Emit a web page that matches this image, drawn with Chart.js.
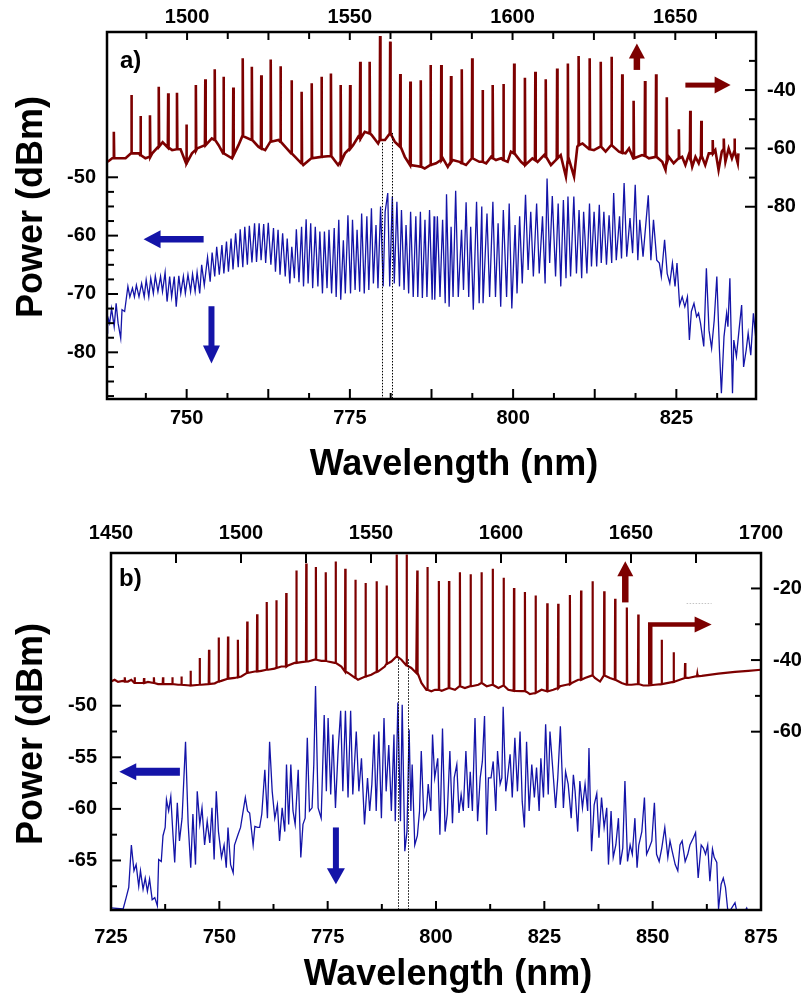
<!DOCTYPE html>
<html><head><meta charset="utf-8">
<script src="https://cdn.jsdelivr.net/npm/chart.js@4.4.1/dist/chart.umd.min.js"></script>
<style>
html,body{margin:0;padding:0;background:#fff;}
#wrap{position:relative;width:805px;height:1005px;overflow:hidden;background:#fff;}
.box{position:absolute;left:0;width:805px;}
</style></head><body>
<div id="wrap">
<div class="box" style="top:0;height:500px"><canvas id="ca" width="805" height="500"></canvas></div>
<div class="box" style="top:500px;height:505px"><canvas id="cb" width="805" height="505"></canvas></div>
</div>
<script>
// ---------- tick labels ----------
const aBottomLabels = [750, 775, 800, 825];
const aTopLabels = [1500, 1550, 1600, 1650];
const aLeftLabels = [-50, -60, -70, -80];
const aRightLabels = [-40, -60, -80];
const bBottomLabels = [725, 750, 775, 800, 825, 850, 875];
const bTopLabels = [1450, 1500, 1550, 1600, 1650, 1700];
const bLeftLabels = [-50, -55, -60, -65];
const bRightLabels = [-20, -40, -60];

// ---------- panel a: IR spectrum (top axis nm, right axis dBm) ----------
// background trace [nm, dBm]
const aIrBase = [[1475.6,-64.6],[1477.0,-63.4],[1479.1,-63.4],[1481.1,-63.4],[1483.2,-60.6],[1485.2,-61.7],[1487.2,-63.4],[1489.3,-61.7],[1491.3,-59.4],[1492.5,-57.9],[1493.9,-59.4],[1495.4,-60.6],[1496.6,-59.7],[1498.0,-60.3],[1500.0,-65.7],[1501.5,-61.7],[1503.1,-60.0],[1505.6,-58.9],[1507.6,-56.6],[1509.7,-58.9],[1511.2,-61.7],[1513.8,-63.4],[1515.8,-58.9],[1517.3,-55.4],[1519.9,-57.1],[1521.9,-59.4],[1524.0,-60.6],[1526.0,-57.7],[1528.1,-57.1],[1530.6,-60.0],[1533.2,-62.9],[1535.7,-65.7],[1538.3,-63.4],[1541.3,-62.9],[1544.4,-62.6],[1546.4,-65.7],[1548.5,-61.7],[1551.0,-58.9],[1552.6,-56.0],[1554.6,-54.3],[1556.7,-55.4],[1558.7,-58.3],[1560.8,-57.1],[1562.3,-54.9],[1563.8,-57.7],[1565.3,-59.4],[1566.9,-62.9],[1568.9,-65.7],[1571.0,-66.1],[1573.0,-66.9],[1574.5,-64.6],[1576.5,-65.1],[1578.6,-63.4],[1580.1,-66.3],[1581.6,-64.0],[1583.7,-64.6],[1585.7,-65.7],[1587.8,-62.9],[1589.8,-64.6],[1591.9,-65.1],[1593.4,-62.9],[1594.9,-64.0],[1596.5,-63.4],[1598.5,-64.6],[1599.5,-61.1],[1601.0,-62.3],[1602.6,-64.6],[1604.1,-66.3],[1606.1,-63.4],[1607.7,-64.6],[1609.7,-62.3],[1611.8,-65.7],[1613.3,-64.0],[1614.8,-62.3],[1616.4,-69.7],[1617.4,-64.0],[1618.9,-69.7],[1619.9,-59.4],[1621.5,-58.3],[1623.5,-60.0],[1625.0,-60.6],[1627.1,-59.4],[1628.6,-61.1],[1630.7,-58.9],[1632.7,-61.1],[1634.7,-61.7],[1635.8,-60.0],[1637.3,-64.0],[1639.8,-62.3],[1641.9,-63.4],[1643.9,-62.9],[1646.0,-64.6],[1647.0,-67.4],[1648.0,-62.9],[1649.5,-65.1],[1651.1,-67.4],[1652.1,-62.9],[1653.1,-65.7],[1654.1,-62.3],[1655.2,-66.3],[1656.2,-62.9],[1657.2,-65.1],[1658.2,-61.9],[1659.2,-65.7],[1660.3,-61.7],[1661.3,-64.6],[1662.3,-60.6],[1663.3,-67.4],[1664.3,-61.1],[1665.4,-64.6],[1666.4,-60.0],[1667.4,-63.4],[1668.4,-60.6],[1669.2,-65.1],[1669.4,-61.7]];
// comb lines [nm, floor dBm, peak dBm]
const aIrLines = [[1477.5,-63.4,-54.3],[1482.9,-61.7,-41.7],[1485.7,-62.3,-48.9],[1488.6,-62.9,-48.6],[1491.3,-59.4,-38.9],[1494.2,-59.7,-41.1],[1496.9,-60.3,-40.9],[1499.8,-65.1,-51.8],[1502.7,-60.6,-38.3],[1505.6,-58.9,-36.3],[1508.5,-57.1,-32.9],[1511.2,-61.7,-35.4],[1514.2,-62.3,-39.1],[1517.1,-55.8,-29.1],[1519.9,-57.1,-32.0],[1522.8,-60.0,-34.9],[1525.7,-57.7,-29.5],[1528.7,-57.7,-31.8],[1532.1,-61.7,-36.6],[1535.2,-65.1,-40.6],[1538.3,-63.4,-37.7],[1541.3,-62.9,-35.4],[1544.2,-62.6,-34.3],[1547.2,-64.6,-38.3],[1550.1,-60.0,-38.3],[1553.2,-56.6,-30.3],[1556.1,-54.9,-30.3],[1559.3,-57.1,-21.5],[1562.4,-54.9,-23.4],[1565.5,-59.4,-34.5],[1568.6,-65.7,-37.1],[1571.8,-66.3,-36.6],[1574.8,-65.7,-31.4],[1578.1,-64.0,-31.4],[1581.1,-64.6,-35.2],[1584.4,-65.1,-32.9],[1587.6,-63.4,-29.1],[1590.8,-64.6,-40.0],[1593.9,-63.4,-38.3],[1597.2,-64.0,-37.9],[1600.5,-61.7,-30.9],[1603.8,-65.7,-35.8],[1607.0,-64.0,-33.7],[1610.2,-62.9,-36.3],[1613.7,-63.4,-32.6],[1617.0,-64.6,-30.9],[1620.3,-58.9,-28.3],[1623.7,-60.3,-29.1],[1627.1,-59.4,-30.3],[1630.4,-58.9,-28.6],[1633.7,-61.5,-34.6],[1637.2,-63.4,-43.7],[1640.7,-62.6,-36.9],[1644.1,-62.9,-34.6],[1647.4,-64.6,-42.5],[1651.1,-63.4,-53.4],[1654.6,-63.4,-47.1],[1658.0,-62.6,-50.5],[1661.5,-61.7,-57.1],[1664.9,-60.3,-56.6],[1668.2,-61.1,-56.6]];

// ---------- panel a: visible spectrum (bottom axis nm, left axis dBm) ----------
const aVis = [[737.8,-76.7],[737.9,-73.9],[738.2,-75.0],[738.5,-72.5],[738.9,-75.6],[739.2,-71.6],[739.5,-75.0],[739.9,-77.6],[740.1,-72.7],[740.5,-73.0],[741.0,-68.7],[741.3,-70.5],[741.7,-69.0],[742.0,-70.5],[742.3,-68.5],[742.7,-70.5],[743.1,-68.2],[743.5,-70.5],[743.8,-67.6],[744.2,-70.5],[744.5,-67.3],[744.9,-69.9],[745.2,-66.9],[745.6,-69.6],[746.0,-67.0],[746.3,-69.6],[746.7,-66.3],[747.0,-71.3],[747.4,-67.0],[747.7,-70.5],[748.1,-67.0],[748.4,-72.2],[748.8,-66.9],[749.1,-69.9],[749.5,-67.0],[749.8,-69.9],[750.2,-66.7],[750.6,-69.6],[750.9,-66.6],[751.3,-69.6],[751.6,-66.3],[752.0,-69.9],[752.3,-65.0],[752.7,-68.5],[753.2,-63.7],[753.6,-67.9],[753.9,-62.9],[754.3,-67.0],[754.6,-61.9],[755.0,-66.7],[755.4,-61.6],[755.7,-66.5],[756.1,-61.0],[756.4,-66.2],[756.8,-60.5],[757.1,-65.8],[757.5,-59.6],[757.9,-65.4],[758.2,-58.9],[758.6,-65.4],[758.9,-58.5],[759.3,-65.0],[759.6,-58.3],[760.0,-64.6],[760.4,-57.9],[760.7,-64.5],[761.1,-57.9],[761.4,-64.2],[761.8,-58.0],[762.1,-64.7],[762.5,-57.8],[762.9,-65.0],[763.3,-58.7],[763.6,-66.2],[764.0,-59.0],[764.3,-66.7],[764.7,-59.6],[765.1,-67.0],[765.4,-60.5],[765.8,-68.2],[766.1,-61.9],[766.5,-67.3],[766.8,-58.9],[767.2,-68.0],[767.6,-58.5],[767.9,-68.7],[768.3,-57.2],[768.6,-68.2],[769.0,-57.9],[769.3,-69.0],[769.7,-58.5],[770.1,-68.7],[770.4,-59.3],[770.8,-69.9],[771.1,-59.3],[771.5,-69.0],[771.8,-59.0],[772.2,-69.9],[772.6,-58.7],[772.9,-70.5],[773.3,-57.3],[773.6,-71.0],[774.0,-60.8],[774.3,-69.9],[774.7,-56.5],[775.1,-69.9],[775.4,-57.3],[775.8,-69.3],[776.1,-59.0],[776.5,-69.6],[776.8,-56.2],[777.2,-69.9],[777.6,-56.7],[777.9,-69.3],[778.3,-55.3],[778.6,-68.2],[779.0,-58.2],[779.3,-69.0],[779.7,-55.0],[780.1,-68.7],[780.4,-55.9],[780.8,-52.7],[781.1,-68.7],[781.5,-53.3],[781.8,-68.2],[782.2,-54.2],[782.6,-68.7],[782.9,-55.6],[783.3,-69.3],[783.6,-58.2],[784.0,-69.9],[784.3,-55.9],[784.7,-70.5],[785.1,-56.7],[785.4,-70.5],[785.8,-55.9],[786.1,-70.7],[786.5,-57.3],[786.8,-70.5],[787.2,-55.6],[787.6,-71.0],[787.9,-56.7],[788.0,-71.0],[788.4,-56.7],[788.8,-70.5],[789.2,-57.3],[789.6,-71.6],[789.8,-52.9],[790.2,-72.2],[790.5,-58.5],[790.8,-70.5],[791.2,-52.3],[791.6,-70.5],[792.1,-59.0],[792.4,-69.3],[792.8,-54.3],[793.2,-70.5],[793.5,-58.5],[793.9,-72.7],[794.4,-54.2],[794.8,-71.6],[795.2,-55.0],[795.4,-71.6],[796.0,-56.2],[796.4,-70.5],[796.9,-54.2],[797.3,-70.5],[797.7,-57.9],[798.1,-72.2],[798.5,-55.6],[799.0,-70.5],[799.4,-54.5],[799.8,-72.5],[800.3,-58.2],[800.6,-69.9],[801.0,-56.7],[801.4,-68.2],[801.9,-53.0],[802.3,-65.9],[802.7,-55.9],[803.1,-67.0],[803.6,-54.5],[804.0,-66.5],[804.5,-56.7],[804.9,-68.2],[805.2,-50.2],[805.6,-64.7],[806.0,-53.2],[806.5,-67.0],[806.9,-54.5],[807.3,-68.7],[807.7,-53.9],[808.1,-67.3],[808.4,-53.3],[808.8,-67.0],[809.3,-53.3],[809.7,-66.5],[810.1,-55.6],[810.5,-67.3],[810.8,-55.9],[811.3,-66.5],[811.7,-54.5],[812.0,-65.3],[812.4,-55.9],[812.8,-65.3],[813.2,-54.7],[813.5,-64.7],[813.9,-55.9],[814.3,-65.0],[814.7,-56.5],[815.1,-64.7],[815.4,-52.7],[815.8,-64.2],[816.3,-56.7],[816.6,-63.9],[817.0,-51.0],[817.4,-63.6],[817.9,-57.0],[818.3,-63.0],[818.7,-51.3],[819.1,-64.2],[819.4,-57.3],[819.9,-63.6],[820.7,-53.1],[821.1,-64.2],[821.5,-57.3],[822.0,-64.2],[822.4,-64.7],[822.7,-67.0],[823.2,-60.7],[823.6,-66.5],[824.0,-68.2],[824.4,-64.7],[824.8,-68.7],[825.1,-64.7],[825.5,-71.9],[825.9,-70.5],[826.3,-72.2],[826.7,-70.5],[827.0,-77.9],[827.3,-73.0],[827.7,-71.6],[828.1,-73.9],[828.4,-73.3],[828.7,-75.0],[829.2,-79.0],[829.6,-65.6],[830.0,-76.2],[830.4,-79.3],[830.8,-74.5],[831.2,-67.0],[831.6,-79.6],[831.9,-87.0],[832.3,-77.3],[832.7,-73.3],[832.9,-75.6],[833.2,-67.3],[833.6,-87.0],[833.8,-77.9],[834.2,-80.7],[834.6,-76.2],[835.0,-71.9],[835.3,-82.5],[835.7,-79.6],[836.0,-76.7],[836.4,-80.5],[836.8,-73.3],[837.2,-77.9]];

// ---------- panel b: IR spectrum ----------
const bIrBase = [[1450.0,-46.0],[1451.4,-45.5],[1452.7,-46.1],[1454.6,-45.8],[1456.5,-46.0],[1457.8,-45.5],[1459.7,-46.4],[1461.7,-46.4],[1464.2,-46.1],[1468.1,-46.7],[1471.9,-46.7],[1475.8,-46.9],[1480.9,-47.1],[1484.7,-46.9],[1487.3,-46.7],[1489.9,-46.5],[1492.4,-45.8],[1495.0,-45.2],[1497.6,-45.0],[1500.1,-44.6],[1502.7,-43.6],[1505.3,-43.2],[1507.8,-43.0],[1510.4,-42.7],[1512.9,-42.4],[1515.5,-41.8],[1518.1,-41.5],[1520.6,-40.8],[1523.2,-40.6],[1525.8,-40.4],[1528.3,-39.9],[1530.9,-40.2],[1533.5,-40.4],[1536.0,-40.8],[1538.6,-41.8],[1541.2,-43.6],[1543.7,-45.0],[1545.0,-45.5],[1547.6,-44.6],[1550.1,-44.1],[1552.7,-43.2],[1555.3,-41.8],[1557.8,-40.4],[1559.7,-39.0],[1561.7,-39.9],[1563.6,-41.3],[1565.5,-42.2],[1567.4,-43.6],[1569.4,-46.4],[1571.3,-48.3],[1573.2,-48.7],[1574.6,-48.3],[1577.2,-48.6],[1579.7,-47.8],[1582.3,-48.3],[1584.2,-47.3],[1586.1,-47.8],[1588.7,-47.3],[1591.3,-46.9],[1592.5,-46.1],[1594.5,-47.3],[1597.0,-46.9],[1599.0,-47.8],[1600.9,-47.1],[1602.8,-48.3],[1605.4,-48.6],[1607.9,-48.7],[1609.9,-48.9],[1611.1,-49.5],[1613.1,-48.7],[1615.6,-48.3],[1618.2,-48.7],[1620.1,-48.3],[1622.7,-47.3],[1625.2,-46.9],[1627.2,-46.4],[1629.7,-45.5],[1632.3,-45.0],[1634.9,-44.1],[1636.1,-45.0],[1638.1,-46.0],[1640.0,-44.1],[1641.9,-45.0],[1643.8,-45.5],[1646.4,-46.4],[1648.3,-46.9],[1650.2,-46.9],[1652.8,-46.7],[1654.7,-47.1],[1656.7,-47.1],[1659.2,-46.9],[1661.8,-46.7],[1666.9,-46.0],[1672.0,-45.0],[1677.2,-44.4],[1683.6,-43.8],[1690.0,-43.3],[1695.1,-43.0],[1700.0,-42.7]];
const bIrLines = [[1455.3,-46.0,-44.8],[1459.1,-46.4,-44.8],[1462.7,-46.4,-45.0],[1466.5,-46.4,-44.8],[1470.0,-46.7,-44.8],[1473.6,-46.7,-44.8],[1477.1,-46.9,-44.6],[1480.6,-47.1,-43.0],[1484.1,-46.9,-39.4],[1487.7,-46.7,-37.1],[1491.4,-46.0,-33.7],[1495.0,-45.2,-33.4],[1498.8,-44.8,-34.3],[1502.4,-43.6,-29.2],[1506.2,-43.2,-27.2],[1509.9,-42.7,-23.8],[1513.6,-42.2,-23.3],[1517.4,-41.8,-21.3],[1521.3,-40.8,-15.0],[1525.1,-40.4,-13.0],[1528.8,-39.9,-14.0],[1532.6,-40.2,-15.5],[1536.4,-40.8,-12.5],[1540.1,-43.2,-14.5],[1544.0,-45.0,-17.6],[1547.9,-44.6,-18.5],[1552.2,-43.3,-18.0],[1556.0,-41.1,-19.2],[1559.9,-39.0,-10.5],[1563.7,-41.5,-10.5],[1567.8,-43.6,-15.0],[1571.7,-48.3,-14.0],[1576.1,-48.3,-17.9],[1580.0,-47.8,-17.9],[1584.2,-47.3,-15.5],[1588.3,-47.3,-16.0],[1592.5,-46.4,-15.5],[1596.8,-46.9,-14.5],[1601.0,-47.1,-17.0],[1605.0,-48.6,-19.9],[1609.2,-48.7,-21.0],[1613.3,-49.2,-22.0],[1617.8,-48.7,-24.1],[1622.0,-47.8,-24.3],[1626.5,-46.7,-21.8],[1630.8,-45.5,-20.6],[1635.2,-44.3,-18.0],[1639.7,-44.3,-20.8],[1643.9,-45.5,-22.9],[1648.4,-46.9,-25.3],[1652.8,-46.7,-27.3],[1661.8,-46.7,-34.3],[1666.4,-46.1,-37.8],[1670.8,-45.0,-40.8],[1675.5,-44.5,-43.9]];

// ---------- panel b: visible spectrum ----------
const bVis = [[725.0,-69.6],[727.8,-69.7],[728.5,-68.6],[729.1,-67.6],[729.7,-63.5],[730.3,-66.0],[730.8,-65.4],[731.4,-67.5],[731.8,-66.0],[732.4,-67.8],[732.9,-66.7],[733.4,-68.0],[733.9,-66.8],[734.5,-68.8],[735.1,-68.6],[735.7,-69.4],[736.0,-64.9],[736.6,-65.1],[737.0,-62.6],[737.5,-61.8],[737.8,-59.1],[738.3,-60.2],[738.8,-58.8],[739.3,-62.5],[739.7,-65.2],[740.3,-59.4],[740.8,-63.1],[741.4,-60.9],[742.2,-53.5],[742.8,-61.4],[743.4,-65.7],[743.9,-60.5],[744.5,-65.4],[744.9,-58.3],[745.5,-61.5],[746.0,-59.9],[746.6,-63.5],[747.2,-61.2],[747.8,-63.3],[748.3,-59.9],[748.8,-64.9],[749.3,-58.3],[749.8,-62.2],[750.5,-64.7],[751.1,-63.5],[751.6,-65.7],[752.0,-61.8],[752.6,-65.4],[753.2,-66.2],[753.5,-63.5],[754.3,-62.5],[754.9,-61.8],[755.5,-60.2],[756.0,-58.9],[756.5,-60.2],[757.0,-60.4],[757.8,-63.5],[758.2,-61.7],[758.8,-61.8],[759.3,-61.8],[759.8,-60.5],[760.5,-56.2],[761.1,-60.9],[761.6,-53.5],[762.2,-58.3],[762.8,-60.9],[763.4,-59.6],[763.9,-63.1],[764.5,-59.9],[765.1,-62.2],[765.5,-55.7],[766.0,-61.5],[766.5,-55.7],[767.0,-60.2],[767.5,-61.5],[768.2,-56.2],[768.8,-64.7],[769.3,-61.5],[769.8,-60.9],[770.3,-53.1],[770.8,-60.2],[771.4,-59.9],[771.8,-55.7],[772.2,-48.1],[772.8,-59.9],[773.5,-60.9],[774.2,-50.9],[774.7,-58.3],[775.1,-51.2],[775.7,-58.6],[776.2,-52.8],[776.8,-59.9],[777.4,-54.4],[778.0,-50.5],[778.5,-58.3],[779.1,-50.5],[779.7,-58.9],[780.3,-50.5],[780.8,-58.6],[781.6,-52.5],[782.2,-58.3],[782.8,-55.1],[783.5,-61.5],[784.2,-57.0],[784.7,-60.2],[785.2,-57.6],[785.7,-52.8],[786.2,-60.2],[786.8,-52.5],[787.4,-60.9],[788.0,-51.2],[788.5,-58.3],[789.1,-53.8],[789.7,-60.2],[790.3,-52.8],[790.6,-61.2],[791.2,-49.7],[791.8,-61.2],[792.2,-49.9],[792.8,-64.1],[793.3,-62.2],[793.8,-52.3],[794.2,-60.2],[794.5,-55.7],[795.1,-63.5],[795.7,-62.6],[796.2,-60.2],[796.6,-54.4],[797.2,-60.9],[797.8,-60.2],[798.2,-57.6],[798.8,-60.2],[799.2,-52.8],[799.7,-57.0],[800.4,-55.1],[800.9,-62.5],[801.5,-52.2],[802.1,-62.2],[802.6,-60.5],[803.2,-54.4],[803.8,-61.4],[804.2,-57.0],[804.8,-55.7],[805.3,-60.4],[805.8,-58.6],[806.3,-60.2],[806.9,-54.4],[807.5,-59.9],[807.9,-56.4],[808.4,-60.2],[809.0,-51.2],[809.6,-61.2],[810.2,-57.0],[810.7,-55.4],[811.2,-51.0],[811.7,-62.5],[812.1,-57.0],[812.7,-57.0],[813.2,-55.4],[813.8,-60.2],[814.2,-54.4],[814.8,-57.6],[815.2,-57.0],[815.5,-50.1],[816.1,-58.3],[816.5,-57.0],[817.1,-54.7],[817.6,-58.9],[818.2,-53.1],[818.8,-58.3],[819.4,-52.5],[819.9,-59.3],[820.4,-61.8],[820.9,-53.5],[821.5,-60.2],[822.1,-55.7],[822.7,-58.9],[823.2,-56.0],[823.8,-60.2],[824.2,-55.1],[824.8,-58.9],[825.3,-51.8],[825.9,-58.6],[826.3,-52.5],[827.1,-57.0],[827.6,-59.9],[828.1,-57.0],[828.7,-52.0],[829.4,-59.9],[829.9,-56.4],[830.5,-57.6],[831.2,-60.9],[831.7,-56.7],[832.1,-58.3],[832.7,-62.2],[833.2,-57.3],[833.8,-59.9],[834.4,-57.6],[835.0,-60.2],[835.3,-54.1],[835.9,-64.1],[836.5,-59.6],[837.1,-58.5],[837.6,-62.8],[838.2,-58.9],[838.8,-61.8],[839.4,-59.9],[839.8,-65.4],[840.4,-60.2],[840.9,-64.7],[841.5,-63.5],[842.1,-60.9],[842.5,-65.4],[843.1,-63.8],[843.6,-57.3],[844.2,-65.1],[844.8,-63.5],[845.3,-64.4],[845.9,-60.9],[846.4,-65.7],[846.8,-63.5],[847.5,-62.2],[848.1,-58.9],[848.6,-64.4],[849.2,-63.8],[849.8,-63.1],[850.4,-59.4],[850.9,-64.4],[851.5,-65.1],[852.1,-63.8],[852.8,-61.8],[853.5,-64.7],[854.0,-63.1],[854.5,-64.1],[855.2,-65.4],[855.8,-66.0],[856.3,-63.5],[856.8,-63.1],[857.5,-65.1],[858.1,-64.4],[858.6,-63.5],[859.4,-62.8],[859.9,-62.3],[860.5,-66.7],[861.2,-63.5],[861.7,-63.8],[862.2,-64.4],[862.7,-63.5],[863.2,-67.0],[863.8,-63.9],[864.2,-64.7],[864.8,-65.2],[865.2,-69.7],[865.8,-67.3],[866.3,-66.7],[866.8,-67.6],[867.3,-69.7],[867.8,-69.9],[869.0,-69.1],[869.4,-69.9],[871.3,-69.9],[871.7,-69.6],[872.5,-70.5]];

// ---------- styling ----------
const RED = '#7d0000', BLUE = '#1414a8';
const FONT = "'Liberation Sans', Arial, Helvetica, sans-serif";

function trace(base, lines) {
  const pts = base.filter(p => !lines.some(l => Math.abs(l[0] - p[0]) < 0.35)).map(p => ({x: p[0], y: p[1]}));
  lines.forEach(l => { pts.push({x: l[0] - 0.12, y: l[1]}, {x: l[0], y: l[2]}, {x: l[0] + 0.12, y: l[1]}); });
  pts.sort((a, b) => a.x - b.x);
  return pts;
}
const pairs = arr => arr.map(p => ({x: p[0], y: p[1]}));

function drawArrow(ctx, pts, shaft, headL, headW, color) {
  const n = pts.length;
  const [x1, y1] = pts[n - 2], [x2, y2] = pts[n - 1];
  const dx = x2 - x1, dy = y2 - y1, L = Math.hypot(dx, dy), ux = dx / L, uy = dy / L;
  const bx = x2 - ux * headL, by = y2 - uy * headL;
  ctx.strokeStyle = color; ctx.fillStyle = color; ctx.lineWidth = shaft; ctx.setLineDash([]);
  ctx.lineCap = 'butt'; ctx.lineJoin = 'miter';
  ctx.beginPath(); ctx.moveTo(pts[0][0], pts[0][1]);
  for (let i = 1; i < n - 1; i++) ctx.lineTo(pts[i][0], pts[i][1]);
  ctx.lineTo(bx + ux, by + uy); ctx.stroke();
  ctx.beginPath(); ctx.moveTo(x2, y2);
  ctx.lineTo(bx - uy * headW / 2, by + ux * headW / 2);
  ctx.lineTo(bx + uy * headW / 2, by - ux * headW / 2);
  ctx.closePath(); ctx.fill();
}

const decoPlugin = {
  id: 'deco',
  afterDatasetsDraw(chart, args, o) {
    const ctx = chart.ctx, ca = chart.chartArea, s = chart.scales;
    ctx.save();
    // dotted guide lines
    ctx.lineWidth = 1; ctx.strokeStyle = '#000'; ctx.setLineDash([1.5, 1.5]);
    (o.guides || []).forEach(g => {
      const x = Math.round(s[g.xAxis].getPixelForValue(g.x)) + 0.5;
      ctx.beginPath();
      ctx.moveTo(x, s[g.yAxis].getPixelForValue(g.y1));
      ctx.lineTo(x, s[g.yAxis].getPixelForValue(g.y2));
      ctx.stroke();
    });
    (o.hguides || []).forEach(g => {
      ctx.strokeStyle = g.color;
      const y = Math.round(s[g.yAxis].getPixelForValue(g.y)) + 0.5;
      ctx.beginPath();
      ctx.moveTo(s[g.xAxis].getPixelForValue(g.x1), y);
      ctx.lineTo(s[g.xAxis].getPixelForValue(g.x2), y);
      ctx.stroke();
    });
    ctx.setLineDash([]);
    // frame
    ctx.strokeStyle = '#000'; ctx.lineWidth = 2.5;
    ctx.strokeRect(ca.left, ca.top, ca.right - ca.left, ca.bottom - ca.top);
    // inward tick marks
    ctx.lineWidth = 2;
    (o.ticks || []).forEach(t => {
      const sc = s[t.axis];
      for (let i = 0; ; i++) {
        const v = t.from + i * t.step;
        if (v > t.to + 1e-9) break;
        const major = Math.abs(v / t.major - Math.round(v / t.major)) < 1e-6;
        const len = major ? t.long : t.short;
        const p = sc.getPixelForValue(v);
        ctx.beginPath();
        if (t.side === 'bottom') { ctx.moveTo(p, ca.bottom); ctx.lineTo(p, ca.bottom - len); }
        else if (t.side === 'top') { ctx.moveTo(p, ca.top); ctx.lineTo(p, ca.top + len); }
        else if (t.side === 'left') { ctx.moveTo(ca.left, p); ctx.lineTo(ca.left + len, p); }
        else { ctx.moveTo(ca.right, p); ctx.lineTo(ca.right - len, p); }
        ctx.stroke();
      }
    });
    // arrows
    (o.arrows || []).forEach(a => {
      const pts = a.pts.map(p => [s[a.xAxis].getPixelForValue(p[0]), s[a.yAxis].getPixelForValue(p[1])]);
      drawArrow(ctx, pts, a.shaft, a.headL, a.headW, a.color);
    });
    // panel tag
    ctx.fillStyle = '#000';
    ctx.font = 'bold 24px ' + FONT;
    ctx.textAlign = 'left'; ctx.textBaseline = 'alphabetic';
    ctx.fillText(o.tag.text, ca.left + o.tag.dx, ca.top + o.tag.dy);
    // axis titles
    ctx.font = 'bold ' + o.titleSize + 'px ' + FONT;
    ctx.textAlign = 'center'; ctx.textBaseline = 'alphabetic';
    ctx.fillText(o.xTitle.text, o.xTitle.x, o.xTitle.y);
    ctx.save();
    ctx.translate(o.yTitle.x, o.yTitle.y);
    ctx.rotate(-Math.PI / 2);
    ctx.textBaseline = 'middle';
    ctx.fillText(o.yTitle.text, 0, 0);
    ctx.restore();
    ctx.restore();
  }
};

function axis(pos, min, max, labels, size, pad) {
  return {
    type: 'linear', position: pos, min: min, max: max,
    grid: {display: false, drawTicks: false},
    border: {display: false},
    ticks: {color: '#000', font: {family: FONT, size: 20, weight: 'bold'}, padding: pad,
      autoSkip: false, maxRotation: 0, minRotation: 0, callback: v => String(v)},
    afterBuildTicks: sc => { sc.ticks = labels.map(v => ({value: v})); },
    afterFit: sc => { if (pos === 'left' || pos === 'right') sc.width = size; else sc.height = size; }
  };
}

function make(id, cfg) {
  return new Chart(document.getElementById(id), {
    type: 'scatter',
    data: {datasets: [
      {data: cfg.vis, xAxisID: 'xb', yAxisID: 'yl', borderColor: BLUE, borderWidth: 1.3, showLine: true, pointRadius: 0, tension: 0},
      {data: cfg.ir, xAxisID: 'xt', yAxisID: 'yr', borderColor: RED, borderWidth: cfg.irWidth, showLine: true, pointRadius: 0, tension: 0}
    ]},
    options: {
      responsive: false, animation: false, devicePixelRatio: 1,
      layout: {padding: 0},
      plugins: {legend: {display: false}, tooltip: {enabled: false}, deco: cfg.deco},
      scales: cfg.scales
    },
    plugins: [decoPlugin]
  });
}

make('ca', {
  vis: pairs(aVis),
  ir: trace(aIrBase, aIrLines),
  irWidth: 2.6,
  scales: {
    xb: axis('bottom', 737.8, 837.2, aBottomLabels, 101, 7),
    xt: axis('top', 1475.4, 1674.8, aTopLabels, 32, 3),
    yl: axis('left', -88.0, -25.1, aLeftLabels, 107, 11),
    yr: axis('right', -145.9, -20.1, aRightLabels, 49, 11)
  },
  deco: {
    guides: [{xAxis: 'xb', yAxis: 'yl', x: 779.9, y1: -44.1, y2: -88.0}, {xAxis: 'xb', yAxis: 'yl', x: 781.5, y1: -42.4, y2: -88.0}],
    ticks: [
      {axis: 'xb', side: 'bottom', from: 743.75, to: 831.25, step: 6.25, major: 12.5, long: 10, short: 6},
      {axis: 'xt', side: 'top', from: 1487.5, to: 1662.5, step: 12.5, major: 25, long: 8, short: 7},
      {axis: 'yl', side: 'left', from: -87.5, to: -50, step: 2.5, major: 10, long: 11, short: 7},
      {axis: 'yr', side: 'right', from: -80, to: -30, step: 10, major: 20, long: 11, short: 7}
    ],
    arrows: [
      {xAxis: 'xb', yAxis: 'yl', pts: [[752.6, -60.6], [743.4, -60.6]], shaft: 6.5, headL: 17, headW: 18, color: BLUE},
      {xAxis: 'xb', yAxis: 'yl', pts: [[753.8, -72.1], [753.8, -81.9]], shaft: 6, headL: 18, headW: 17, color: BLUE},
      {xAxis: 'xt', yAxis: 'yr', pts: [[1638.2, -33.1], [1638.2, -24.0]], shaft: 6.5, headL: 15, headW: 16, color: RED},
      {xAxis: 'xt', yAxis: 'yr', pts: [[1653.1, -38.3], [1667.0, -38.3]], shaft: 5, headL: 16, headW: 17, color: RED}
    ],
    tag: {text: 'a)', dx: 13, dy: 35.5},
    titleSize: 36,
    xTitle: {text: 'Wavelength (nm)', x: 454, y: 475},
    yTitle: {text: 'Power (dBm)', x: 32, y: 207}
  }
});

make('cb', {
  vis: pairs(bVis),
  ir: trace(bIrBase, bIrLines),
  irWidth: 2.2,
  scales: {
    xb: axis('bottom', 725, 875, bBottomLabels, 95, 15),
    xt: axis('top', 1450, 1700, bTopLabels, 53, 8),
    yl: axis('left', -69.8, -35.2, bLeftLabels, 111, 14),
    yr: axis('right', -109.8, -10.1, bRightLabels, 44, 12)
  },
  deco: {
    guides: [{xAxis: 'xb', yAxis: 'yl', x: 791.2, y1: -45.5, y2: -69.8}, {xAxis: 'xb', yAxis: 'yl', x: 793.5, y1: -45.5, y2: -69.8}],
    hguides: [{xAxis: 'xt', yAxis: 'yr', x1: 1671.4, x2: 1681.0, y: -24.1, color: '#c4c4c4'}],
    ticks: [
      {axis: 'xb', side: 'bottom', from: 737.5, to: 862.5, step: 12.5, major: 25, long: 9, short: 6},
      {axis: 'xt', side: 'top', from: 1475, to: 1675, step: 25, major: 50, long: 10, short: 10},
      {axis: 'yl', side: 'left', from: -67.5, to: -50, step: 2.5, major: 5, long: 10, short: 6},
      {axis: 'yr', side: 'right', from: -60, to: -20, step: 10, major: 20, long: 10, short: 6}
    ],
    arrows: [
      {xAxis: 'xb', yAxis: 'yl', pts: [[740.9, -56.4], [726.9, -56.4]], shaft: 8, headL: 17, headW: 17, color: BLUE},
      {xAxis: 'xb', yAxis: 'yl', pts: [[776.9, -61.8], [776.9, -67.3]], shaft: 6, headL: 16, headW: 18, color: BLUE},
      {xAxis: 'xt', yAxis: 'yr', pts: [[1647.8, -23.9], [1647.8, -12.4]], shaft: 6.5, headL: 15, headW: 16, color: RED},
      {xAxis: 'xt', yAxis: 'yr', pts: [[1657.4, -46.9], [1657.4, -30.1], [1681.0, -30.1]], shaft: 4.5, headL: 17, headW: 16, color: RED}
    ],
    tag: {text: 'b)', dx: 8, dy: 32.5},
    titleSize: 36,
    xTitle: {text: 'Wavelength (nm)', x: 448, y: 485},
    yTitle: {text: 'Power (dBm)', x: 32, y: 234}
  }
});
</script>
</body></html>
